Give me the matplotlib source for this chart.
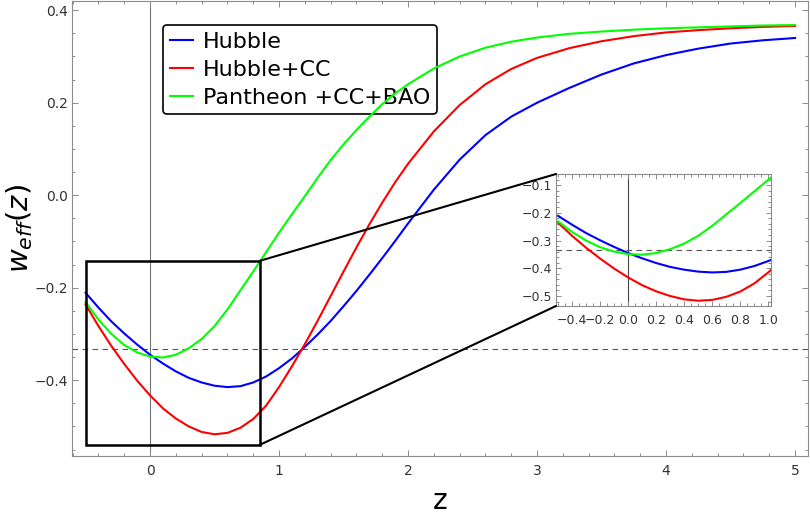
import numpy as np
import matplotlib.pyplot as plt
from matplotlib.patches import Rectangle, ConnectionPatch
from matplotlib.ticker import MultipleLocator

# redshift grid
z = [-0.5, -0.4, -0.3, -0.2, -0.1, 0.0, 0.1, 0.2, 0.3, 0.4,
     0.5, 0.6, 0.7, 0.8, 0.9, 1.0, 1.1, 1.2, 1.3, 1.4,
     1.5, 1.6, 1.7, 1.8, 1.9, 2.0, 2.2, 2.4, 2.6, 2.8,
     3.0, 3.25, 3.5, 3.75, 4.0, 4.25, 4.5, 4.75, 5.0]

w_hubble = [-0.211, -0.243, -0.273, -0.299, -0.323, -0.345, -0.364, -0.381, -0.395, -0.405,
            -0.412, -0.415, -0.413, -0.405, -0.392, -0.374, -0.353, -0.328, -0.301, -0.272,
            -0.240, -0.207, -0.172, -0.136, -0.099, -0.061, 0.012, 0.077, 0.130, 0.170,
            0.200, 0.232, 0.261, 0.285, 0.303, 0.317, 0.328, 0.335, 0.340]

w_hubble_cc = [-0.236, -0.283, -0.326, -0.365, -0.401, -0.433, -0.461, -0.483, -0.500, -0.512,
               -0.517, -0.514, -0.503, -0.484, -0.455, -0.415, -0.370, -0.322, -0.271, -0.218,
               -0.165, -0.113, -0.063, -0.016, 0.028, 0.068, 0.138, 0.195, 0.240, 0.273,
               0.297, 0.318, 0.333, 0.344, 0.352, 0.357, 0.361, 0.364, 0.366]

w_pantheon = [-0.231, -0.269, -0.300, -0.324, -0.340, -0.349, -0.351, -0.345, -0.331, -0.311,
              -0.283, -0.247, -0.206, -0.165, -0.123, -0.081, -0.041, -0.002, 0.038, 0.076,
              0.110, 0.141, 0.170, 0.197, 0.220, 0.240, 0.274, 0.300, 0.319, 0.332,
              0.341, 0.349, 0.354, 0.358, 0.361, 0.363, 0.365, 0.367, 0.368]

labels = ['Hubble', 'Hubble+CC', 'Pantheon +CC+BAO']
colors = ['#0000ff', '#ff0000', '#00ff00']

x_ticks = [0, 1, 2, 3, 4, 5]
y_ticks = [-0.4, -0.2, 0.0, 0.2, 0.4]
y_ticklabels = ['\u22120.4', '\u22120.2', '0.0', '0.2', '0.4']
ins_x_ticks = [-0.4, -0.2, 0.0, 0.2, 0.4, 0.6, 0.8, 1.0]
ins_x_ticklabels = ['\u22120.4', '\u22120.2', '0.0', '0.2', '0.4', '0.6', '0.8', '1.0']
ins_y_ticks = [-0.5, -0.4, -0.3, -0.2, -0.1]
ins_y_ticklabels = ['\u22120.5', '\u22120.4', '\u22120.3', '\u22120.2', '\u22120.1']

w_phantom = -1. / 3.

frame_col = '#8c8c8c'
lab_col = '#333333'


def style_frame(a, major, minor, xminor, yminor, size=10):
    for s in a.spines.values():
        s.set_color(frame_col)
        s.set_linewidth(0.8)
    a.tick_params(which='both', direction='in', top=True, right=True,
                  color=frame_col, width=0.7, labelcolor=lab_col, labelsize=size)
    a.tick_params(which='major', length=major)
    a.tick_params(which='minor', length=minor)
    a.tick_params(axis='y', pad=3)
    a.tick_params(axis='x', pad=6)
    a.xaxis.set_minor_locator(MultipleLocator(xminor))
    a.yaxis.set_minor_locator(MultipleLocator(yminor))


fig = plt.figure(figsize=(8.1, 5.17), dpi=100)
ax = fig.add_axes([72/810., 61/517., 736/810., 455/517.])

series = [w_hubble, w_hubble_cc, w_pantheon]
for w, lab, c in zip(series, labels, colors):
    ax.plot(z, w, color=c, lw=1.5, label=lab, zorder=3)

ax.axvline(0., color='#777777', lw=0.8, zorder=1)
ax.axhline(w_phantom, color='#555555', lw=0.8, ls=(0, (5, 4)), zorder=1)

ax.set_xlim(-0.605, 5.10)
ax.set_ylim(-0.564, 0.42)
ax.set_xticks(x_ticks)
ax.set_yticks(y_ticks)
ax.set_yticklabels(y_ticklabels)
style_frame(ax, 4.5, 2.5, 0.2, 0.05)

ax.set_xlabel('z', fontsize=20)
ax.xaxis.set_label_coords(0.5, -0.068)
ax.set_ylabel(r'$w_{eff}(z)$', fontsize=21)
ax.yaxis.set_label_coords(-0.05, 0.5)

leg = ax.legend(loc='upper left', bbox_to_anchor=(163/810., 1 - 25/517.),
                bbox_transform=fig.transFigure, fontsize=16, frameon=True,
                fancybox=True, edgecolor='black', framealpha=1., borderaxespad=0.,
                handlelength=1.05, handletextpad=0.45, labelspacing=0.36, borderpad=0.3)
leg.get_frame().set_linewidth(1.2)
leg.set_zorder(2)

# box marking the zoomed region
box = Rectangle((-0.5, -0.54), 1.35, 0.398, fill=False, ec='black', lw=1.8, zorder=5)
ax.add_patch(box)

axins = fig.add_axes([556/810., (517-306)/517., 215/810., 132/517.])
for w, c in zip(series, colors):
    axins.plot(z, w, color=c, lw=1.5, zorder=3)
axins.axvline(0., color='#444444', lw=0.8, zorder=1)
axins.axhline(w_phantom, color='#555555', lw=0.8, ls=(0, (5, 4)), zorder=1)
axins.set_xlim(-0.515, 1.02)
axins.set_ylim(-0.536, -0.06)
axins.set_xticks(ins_x_ticks)
axins.set_xticklabels(ins_x_ticklabels)
axins.set_yticks(ins_y_ticks)
axins.set_yticklabels(ins_y_ticklabels)
style_frame(axins, 3.5, 2., 0.05, 0.02, size=9)

for xy_box, xy_ins in [((0.85, -0.142), (0, 1)), ((0.85, -0.54), (0, 0))]:
    con = ConnectionPatch(xyA=xy_box, coordsA=ax.transData, xyB=xy_ins,
                          coordsB=axins.transAxes, color='black', lw=1.5)
    fig.add_artist(con)

plt.savefig('out.png', dpi=100)
